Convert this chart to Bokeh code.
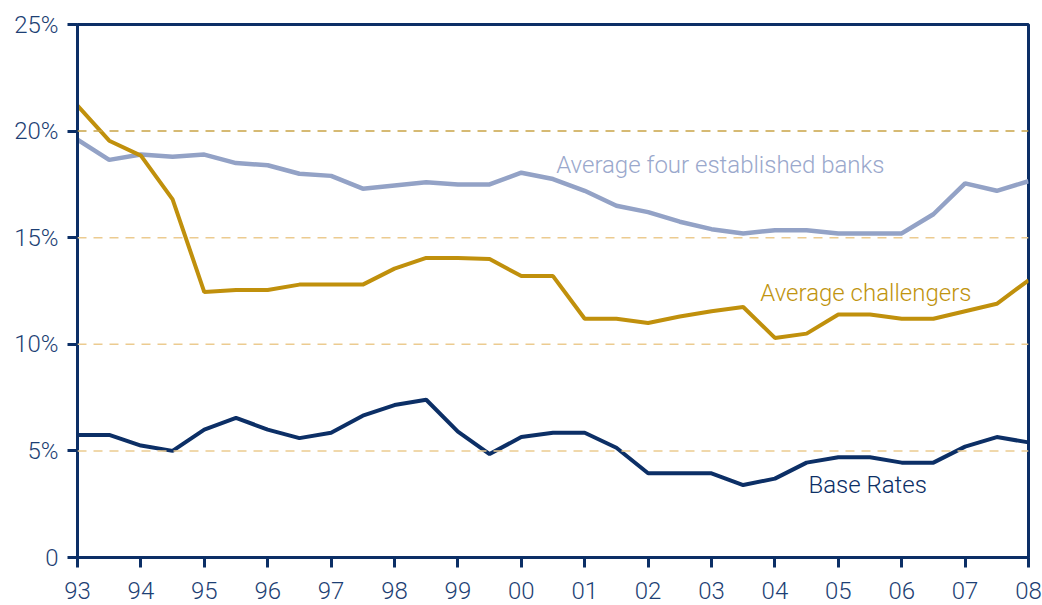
from bokeh.plotting import figure
from bokeh.models import Span, Label, FixedTicker
from bokeh.embed import file_html
from bokeh.resources import INLINE

periods = [1993.0, 1993.5, 1994.0, 1994.5, 1995.0, 1995.5, 1996.0, 1996.5,
           1997.0, 1997.5, 1998.0, 1998.5, 1999.0, 1999.5, 2000.0, 2000.5,
           2001.0, 2001.5, 2002.0, 2002.5, 2003.0, 2003.5, 2004.0, 2004.5,
           2005.0, 2005.5, 2006.0, 2006.5, 2007.0, 2007.5, 2008.0]

established = [19.6, 18.65, 18.9, 18.8, 18.9, 18.5, 18.4, 18.0, 17.9, 17.3, 17.45,
               17.6, 17.5, 17.5, 18.05, 17.75, 17.2, 16.5, 16.2, 15.75, 15.4, 15.2,
               15.35, 15.35, 15.2, 15.2, 15.2, 16.1, 17.55, 17.2, 17.65]

challengers = [21.2, 19.55, 18.85, 16.8, 12.45, 12.55, 12.55, 12.8, 12.8, 12.8, 13.55,
               14.05, 14.05, 14.0, 13.2, 13.2, 11.2, 11.2, 11.0, 11.3, 11.55, 11.75,
               10.3, 10.5, 11.4, 11.4, 11.2, 11.2, 11.55, 11.9, 13.0]

base_rates = [5.75, 5.75, 5.25, 5.0, 6.0, 6.55, 6.0, 5.6, 5.85, 6.65, 7.15, 7.4, 5.9,
              4.85, 5.65, 5.85, 5.85, 5.15, 3.95, 3.95, 3.95, 3.4, 3.7, 4.45, 4.7,
              4.7, 4.45, 4.45, 5.2, 5.65, 5.4]

year_ticks = list(range(1993, 2009))
year_labels = ["93", "94", "95", "96", "97", "98", "99", "00", "01", "02", "03",
               "04", "05", "06", "07", "08"]
pct_ticks = [0, 5, 10, 15, 20, 25]
pct_labels = ["0", "5%", "10%", "15%", "20%", "25%"]

NAVY = "#0c2f66"
GREY = "#93a2c6"
GOLD = "#c0900c"
FONT = "Roboto Light"

p = figure(frame_width=951, frame_height=533, x_range=(1993, 2008), y_range=(0, 25),
           output_backend="svg", toolbar_location=None,
           min_border_left=77, min_border_top=24, min_border_right=14, min_border_bottom=48)
p.background_fill_color = "white"
p.border_fill_color = "white"
p.outline_line_color = NAVY
p.outline_line_width = 3
p.xgrid.visible = False
p.ygrid.visible = False

for v in pct_ticks[1:-1]:
    col = "#c9a447" if v == 20 else "#eccb90"
    p.add_layout(Span(location=v, dimension="width", line_color=col,
                      line_width=1.5, line_dash="9 7"))

p.line(periods, established, line_color=GREY, line_width=4.5)
p.line(periods, challengers, line_color=GOLD, line_width=4)
p.line(periods, base_rates, line_color=NAVY, line_width=4)

for ax in (p.xaxis[0], p.yaxis[0]):
    ax.axis_line_color = NAVY
    ax.axis_line_width = 3
    ax.major_tick_line_color = NAVY
    ax.major_tick_line_width = 3
    ax.major_tick_out = 10
    ax.major_tick_in = 0
    ax.minor_tick_line_color = None
    ax.major_label_text_color = "#1d3f74"
    ax.major_label_text_font = FONT
    ax.major_label_text_font_size = "24px"

p.xaxis[0].ticker = FixedTicker(ticks=year_ticks)
p.xaxis[0].major_label_overrides = {t: l for t, l in zip(year_ticks, year_labels)}
p.xaxis[0].major_label_standoff = 14
p.yaxis[0].ticker = FixedTicker(ticks=pct_ticks)
p.yaxis[0].major_label_overrides = {t: l for t, l in zip(pct_ticks, pct_labels)}
p.yaxis[0].major_label_standoff = 9

p.add_layout(Label(x=2000.55, y=18.42, text="Average four established banks",
                   text_color="#9aa8cc", text_font=FONT, text_font_size="24px",
                   text_baseline="alphabetic"))
p.add_layout(Label(x=2003.77, y=12.42, text="Average challengers",
                   text_color="#c0940f", text_font=FONT, text_font_size="24px",
                   text_baseline="alphabetic"))
p.add_layout(Label(x=2004.53, y=3.42, text="Base Rates",
                   text_color=NAVY, text_font=FONT, text_font_size="24px",
                   text_baseline="alphabetic"))

open("out.html", "w").write(file_html(p, INLINE))
